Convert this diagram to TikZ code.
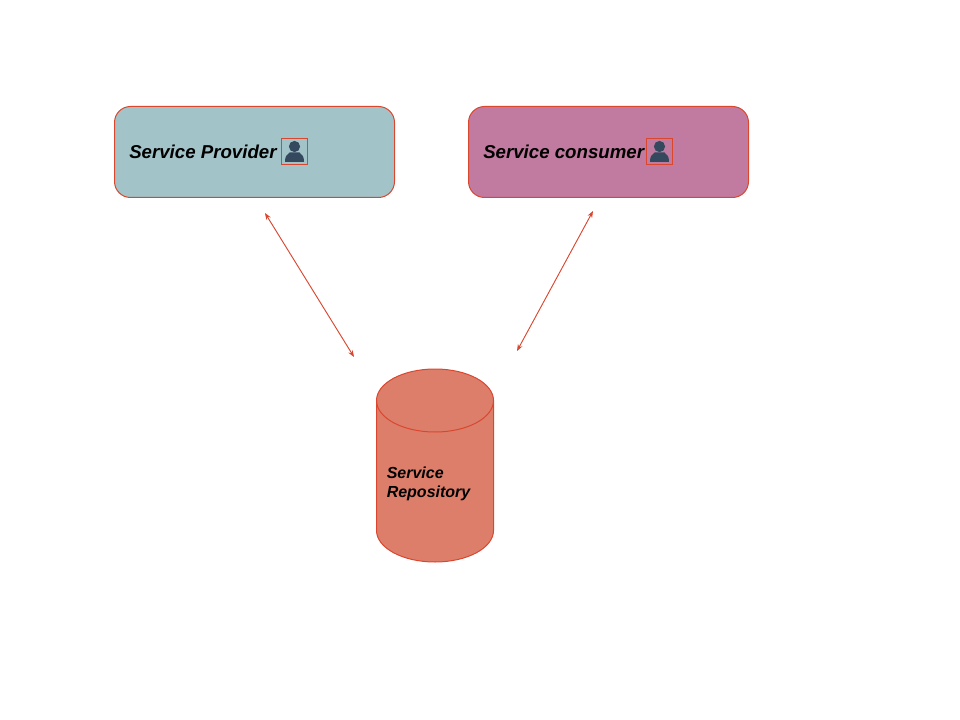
\documentclass[tikz,border=0pt]{standalone}
\usepackage{fontspec}
\setmainfont{Liberation Sans}
\usetikzlibrary{arrows.meta}
\definecolor{edgered}{HTML}{D9472F}
\definecolor{providerfill}{HTML}{A2C4C9}
\definecolor{consumerfill}{HTML}{C27BA0}
\definecolor{repofill}{HTML}{DD7E6B}
\definecolor{iconblue}{HTML}{34495E}
\begin{document}
\begin{tikzpicture}[
x=0.75pt,y=-0.75pt,
box/.style={
draw=edgered,
rounded corners=12pt,
minimum width=210pt,
minimum height=68.25pt,
line width=0.75pt
},
iconbox/.style={
draw=edgered,
minimum size=19.5pt,
inner sep=0pt,
line width=0.75pt
},
boxtext/.style={
font=\bfseries\itshape\fontsize{14pt}{16pt}\selectfont,
anchor=west,
inner sep=0pt
},
repo/.style={
draw=edgered,
fill=repofill,
line width=0.75pt
},
arrow/.style={<->, draw=edgered, line width=0.7pt, >={Stealth[length=5pt,width=3.8pt]}},
pics/person/.style={
code={
\fill[iconblue] (0,-5) circle (5.6);
\fill[iconblue] (-9.5,10.5) .. controls (-9.5,5) and (-8,3) .. (-5,1) -- (5,1) .. controls (8,3) and (9.5,5) .. (9.5,10.5) -- cycle;
}
}
]
\useasboundingbox (0,0) rectangle (960,720);
\node[box,fill=providerfill] (provider) at (254.5,152) {};
\node[box,fill=consumerfill] (consumer) at (608.5,152) {};
\draw[repo] (376.5,400.5) arc[start angle=180,end angle=360,x radius=58.5,y radius=31.5] -- (493.5,530.5) arc[start angle=0,end angle=180,x radius=58.5,y radius=31.5] -- cycle;
\draw[repo,fill=none] (376.5,400.5) arc[start angle=180,end angle=0,x radius=58.5,y radius=31.5];
\node[boxtext] (providertext) at (129,152) {Service Provider};
\node[boxtext] (consumertext) at (483,152) {Service consumer};
\node[iconbox] (providericon) at (294.5,151.5) {};
\node[iconbox] (consumericon) at (659.5,151.5) {};
\pic at (providericon) {person};
\pic at (consumericon) {person};
\node[boxtext,font=\bfseries\itshape\fontsize{12pt}{14.25pt}\selectfont,align=left] (repotext) at (386.5,484) {Service\\Repository};
\coordinate (providerend) at (265,213);
\coordinate (providerrepo) at (354,357);
\coordinate (consumerend) at (593,211);
\coordinate (consumerrepo) at (517,351);
\draw[arrow] (providerend) -- (providerrepo);
\draw[arrow] (consumerend) -- (consumerrepo);
\end{tikzpicture}
\end{document}
